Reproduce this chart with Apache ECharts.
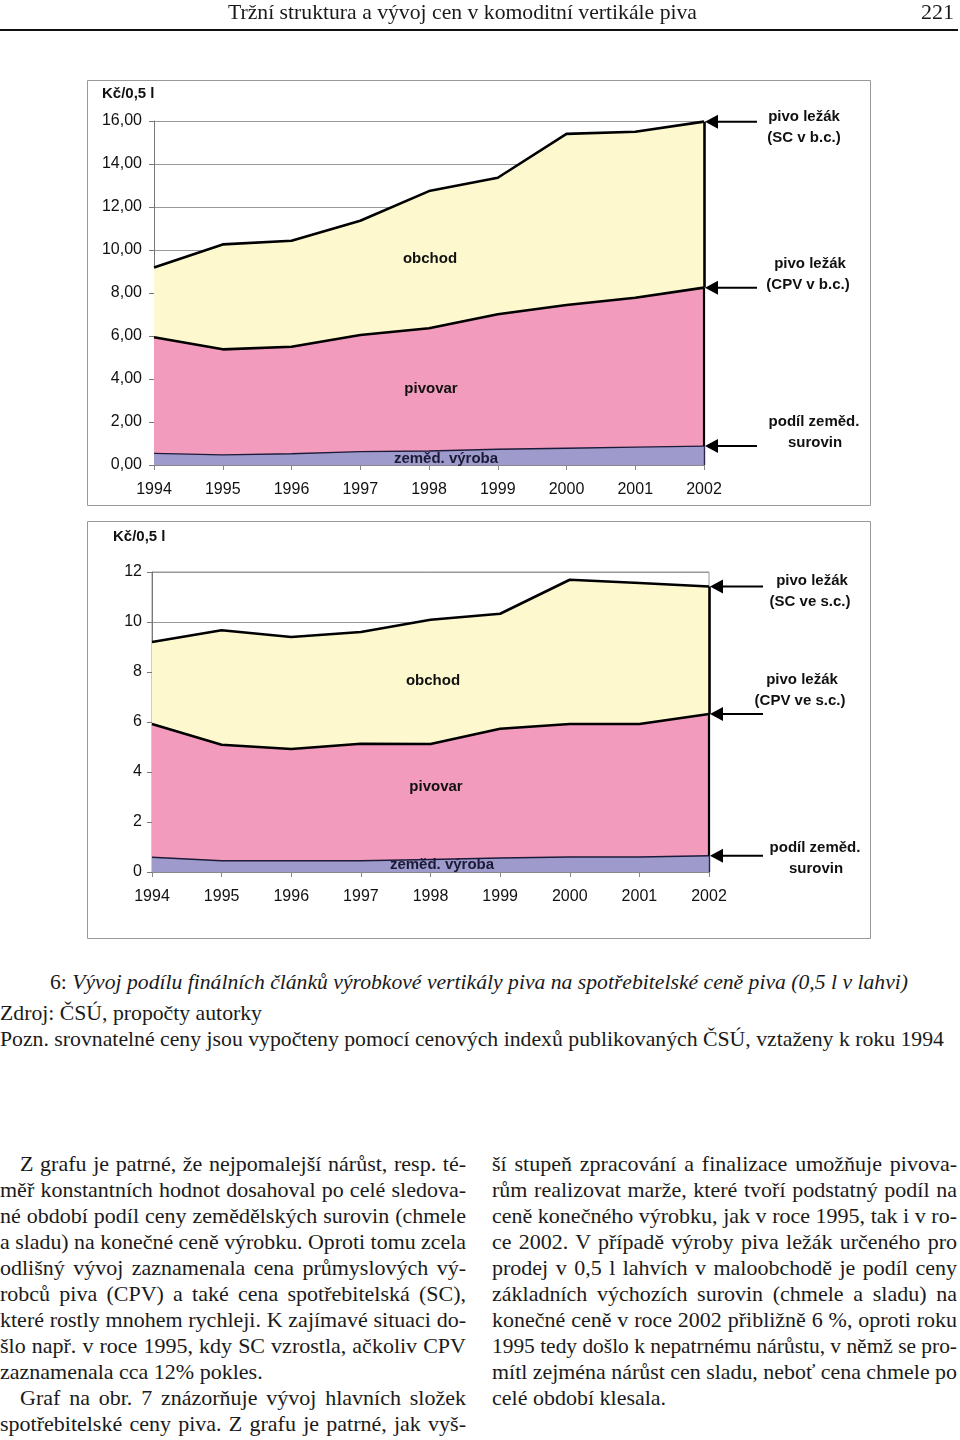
<!DOCTYPE html>
<html>
<head>
<meta charset="utf-8">
<script src="https://cdn.jsdelivr.net/npm/echarts@6/dist/echarts.min.js"></script>
<style>
  body { margin: 0; background: #fff; width: 960px; height: 1440px; position: relative; overflow: hidden;
         font-family: "Liberation Serif", "Times New Roman", serif; color: #1a1a1a; }
  #chart { position: absolute; left: 0; top: 0; width: 960px; height: 950px; }
  .t { position: absolute; white-space: nowrap; font-size: 22px; line-height: 26px; transform-origin: 0 50%; }
  .j { text-align: justify; text-align-last: justify; }
  .rule { position: absolute; left: 0; top: 29px; width: 958px; height: 2px; background: #111; }
</style>
</head>
<body>
<div id="chart"></div>

<div class="t fit" data-w="469" style="left:228px;top:-1px;font-size:22px"><span>Tržní struktura a vývoj cen v komoditní vertikále piva</span></div>
<div class="t" style="left:921px;top:-1px;font-size:22px"><span>221</span></div>
<div class="rule"></div>

<div class="t fit" data-w="858" style="left:50px;top:969px"><span>6: <i>Vývoj podílu finálních článků výrobkové vertikály piva na spotřebitelské ceně piva (0,5 l v lahvi)</i></span></div>
<div class="t fit" data-w="262" style="left:0;top:1000px"><span>Zdroj: ČSÚ, propočty autorky</span></div>
<div class="t fit" data-w="944" style="left:0;top:1026px"><span>Pozn. srovnatelné ceny jsou vypočteny pomocí cenových indexů publikovaných ČSÚ, vztaženy k roku 1994</span></div>

<div id="colL"></div>
<div id="colR"></div>

<script>
// hodnoty (Kč/0,5 l)
const years = ['1994', '1995', '1996', '1997', '1998', '1999', '2000', '2001', '2002']

// horní graf - běžné ceny
const sc1 = [9.19, 10.26, 10.43, 11.36, 12.74, 13.36, 15.40, 15.50, 15.97]
const cpv1 = [5.94, 5.38, 5.50, 6.05, 6.36, 7.01, 7.44, 7.78, 8.25]
const agri1 = [0.54, 0.47, 0.52, 0.62, 0.65, 0.73, 0.78, 0.83, 0.88]

// dolní graf - srovnatelné ceny
const sc2 = [9.20, 9.67, 9.40, 9.60, 10.09, 10.33, 11.69, 11.56, 11.42]
const cpv2 = [5.92, 5.09, 4.92, 5.13, 5.12, 5.73, 5.92, 5.92, 6.32]
const agri2 = [0.59, 0.45, 0.45, 0.45, 0.50, 0.56, 0.60, 0.60, 0.65]

const ticks1 = [0, 16, 2]
const ticks2 = [0, 12, 2]

const textLeft = [
  ['Z grafu je patrné, že nejpomalejší nárůst, resp. té-', 1],
  ['měř konstantních hodnot dosahoval po celé sledova-', 0],
  ['né období podíl ceny zemědělských surovin (chmele', 0],
  ['a sladu) na konečné ceně výrobku. Oproti tomu zcela', 0],
  ['odlišný vývoj zaznamenala cena průmyslových vý-', 0],
  ['robců piva (CPV) a také cena spotřebitelská (SC),', 0],
  ['které rostly mnohem rychleji. K zajímavé situaci do-', 0],
  ['šlo např. v roce 1995, kdy SC vzrostla, ačkoliv CPV', 0],
  ['zaznamenala cca 12% pokles.', 2],
  ['Graf na obr. 7 znázorňuje vývoj hlavních složek', 1],
  ['spotřebitelské ceny piva. Z grafu je patrné, jak vyš-', 0]
]
const textRight = [
  ['ší stupeň zpracování a finalizace umožňuje pivova-', 0],
  ['rům realizovat marže, které tvoří podstatný podíl na', 0],
  ['ceně konečného výrobku, jak v roce 1995, tak i v ro-', 0],
  ['ce 2002. V případě výroby piva ležák určeného pro', 0],
  ['prodej v 0,5 l lahvích v maloobchodě je podíl ceny', 0],
  ['základních výchozích surovin (chmele a sladu) na', 0],
  ['konečné ceně v roce 2002 přibližně 6 %, oproti roku', 0],
  ['1995 tedy došlo k nepatrnému nárůstu, v němž se pro-', 0],
  ['mítl zejména nárůst cen sladu, neboť cena chmele po', 0],
  ['celé období klesala.', 2]
]

/**
 * sloupce textu - každý řádek zvlášť, aby seděly zlomy
 */
function column(el, lines, x, w) {
  lines.forEach((l, i) => {
    const d = document.createElement('div')
    const indent = l[1] === 1 ? 20 : 0
    d.className = 't' + (l[1] === 2 ? ' shrink' : ' fit')
    d.dataset.w = w - indent
    d.style.left = (x + indent) + 'px'
    d.style.top = (1151 + i * 26) + 'px'
    d.innerHTML = '<span>' + l[0] + '</span>'
    el.appendChild(d)
  })
}
column(document.getElementById('colL'), textLeft, 0, 466)
column(document.getElementById('colR'), textRight, 492, 465)

// zúžení písma, pokud je řádek delší, pak zarovnání na šířku sazby
const squeeze = 1
document.querySelectorAll('.fit, .shrink').forEach(d => {
  const target = +d.dataset.w
  const natural = d.firstChild.getBoundingClientRect().width * squeeze
  const s = natural > target ? target / natural * squeeze : squeeze
  if (s !== 1) d.style.transform = 'scaleX(' + s + ')'
  if (d.classList.contains('fit')) {
    d.style.width = (target / s) + 'px'
    d.classList.add('j')
  }
})

const sans = '"Liberation Sans", Arial, sans-serif'
const YELLOW = '#FDF8CE'
const PINK = '#F29BBC'
const PURPLE = '#9E9ACB'

function axes(gi, t, fmt, margin) {
  return {
    x: {
      type: 'category', gridIndex: gi, data: years, boundaryGap: false,
      axisLine: { lineStyle: { color: '#888', width: 1 } },
      axisTick: { show: true, length: 5, lineStyle: { color: '#888' } },
      axisLabel: { color: '#111', fontSize: 16, fontFamily: sans, margin: 17 },
      splitLine: { show: false }
    },
    y: {
      type: 'value', gridIndex: gi, min: t[0], max: t[1], interval: t[2],
      axisLine: { show: true, lineStyle: { color: '#777', width: 1 } },
      axisTick: { show: true, length: 5, lineStyle: { color: '#777' } },
      axisLabel: { color: '#111', fontSize: 16, fontFamily: sans, margin: margin, formatter: fmt },
      splitLine: { lineStyle: { color: '#999', width: 1.2 } }
    }
  }
}

function series(gi, sc, cpv, agri) {
  const last = years.length - 1
  const base = { type: 'line', xAxisIndex: gi, yAxisIndex: gi, symbol: 'none', silent: true, animation: false }
  return [
    Object.assign({}, base, { name: 'obchod', data: sc, z: 2,
      lineStyle: { color: '#000', width: 2.6 }, areaStyle: { color: YELLOW, opacity: 1 } }),
    Object.assign({}, base, { name: 'pivovar', data: cpv, z: 3,
      lineStyle: { color: '#000', width: 2.6 }, areaStyle: { color: PINK, opacity: 1 } }),
    Object.assign({}, base, { name: 'zeměd. výroba', data: agri, z: 4,
      lineStyle: { color: '#1d1b3a', width: 1.4 }, areaStyle: { color: PURPLE, opacity: 1 },
      markLine: {
        silent: true, symbol: 'none', label: { show: false }, animation: false,
        data: [
          [{ coord: [last, sc[last]], lineStyle: { color: '#000', width: 2.6, type: 'solid' } }, { coord: [last, cpv[last]] }],
          [{ coord: [last, cpv[last]], lineStyle: { color: '#000', width: 2.2, type: 'solid' } }, { coord: [last, agri[last]] }],
          [{ coord: [last, agri[last]], lineStyle: { color: '#2a2850', width: 1.4, type: 'solid' } }, { coord: [last, 0] }]
        ]
      } })
  ]
}

const a1 = axes(0, ticks1, v => v.toFixed(2).replace('.', ','), 12)
const a2 = axes(1, ticks2, v => String(v), 10)

const chart = echarts.init(document.getElementById('chart'), null, { renderer: 'canvas' })
chart.setOption({
  animation: false,
  backgroundColor: '#fff',
  grid: [
    { left: 154, right: 256, top: 121, height: 344 },
    { left: 152, right: 251, top: 572, height: 300, show: true, borderColor: '#999', borderWidth: 1 }
  ],
  xAxis: [a1.x, a2.x],
  yAxis: [a1.y, a2.y],
  series: series(0, sc1, cpv1, agri1).concat(series(1, sc2, cpv2, agri2))
})

/**
 * popisky, rámečky a šipky vpravo
 */
function txt(s, x, y, opt) {
  opt = opt || {}
  return {
    type: 'text', z: 20, silent: true,
    style: {
      text: s, x: x, y: y, fill: opt.fill || '#111',
      font: 'bold 15px ' + sans,
      align: opt.align || 'center', verticalAlign: 'middle',
      textAlign: opt.align || 'center', textVerticalAlign: 'middle'
    }
  }
}
function arrow(gi, value, end) {
  const p = chart.convertToPixel({ gridIndex: gi }, ['2002', value])
  const x = p[0] + 1, y = p[1]
  return [
    { type: 'polygon', z: 20, silent: true, shape: { points: [[x, y], [x + 13, y - 7], [x + 13, y + 7]] }, style: { fill: '#000' } },
    { type: 'line', z: 20, silent: true, shape: { x1: x + 12, y1: y, x2: end, y2: y }, style: { stroke: '#000', lineWidth: 2 } }
  ]
}

const g = [
  { type: 'rect', z: 1, silent: true, shape: { x: 87.5, y: 80.5, width: 783, height: 425 }, style: { fill: 'none', stroke: '#999', lineWidth: 1 } },
  { type: 'rect', z: 1, silent: true, shape: { x: 87.5, y: 521.5, width: 783, height: 417 }, style: { fill: 'none', stroke: '#999', lineWidth: 1 } },

  txt('Kč/0,5 l', 102, 94, { align: 'left' }),
  txt('obchod', 430, 259),
  txt('pivovar', 431, 389),
  txt('zeměd. výroba', 446, 459, { fill: '#1b1935' }),
  txt('pivo ležák', 804, 117),
  txt('(SC v b.c.)', 804, 138),
  txt('pivo ležák', 810, 264),
  txt('(CPV v b.c.)', 808, 285),
  txt('podíl zeměd.', 814, 422),
  txt('surovin', 815, 443),

  txt('Kč/0,5 l', 113, 537, { align: 'left' }),
  txt('obchod', 433, 681),
  txt('pivovar', 436, 787),
  txt('zeměd. výroba', 442, 865, { fill: '#1b1935' }),
  txt('pivo ležák', 812, 581),
  txt('(SC ve s.c.)', 810, 602),
  txt('pivo ležák', 802, 680),
  txt('(CPV ve s.c.)', 800, 701),
  txt('podíl zeměd.', 815, 848),
  txt('surovin', 816, 869)
]
  .concat(arrow(0, sc1[8], 757), arrow(0, cpv1[8], 757), arrow(0, agri1[8], 757))
  .concat(arrow(1, sc2[8], 763), arrow(1, cpv2[8], 763), arrow(1, agri2[8], 763))

chart.setOption({ graphic: g })
</script>
</body>
</html>
